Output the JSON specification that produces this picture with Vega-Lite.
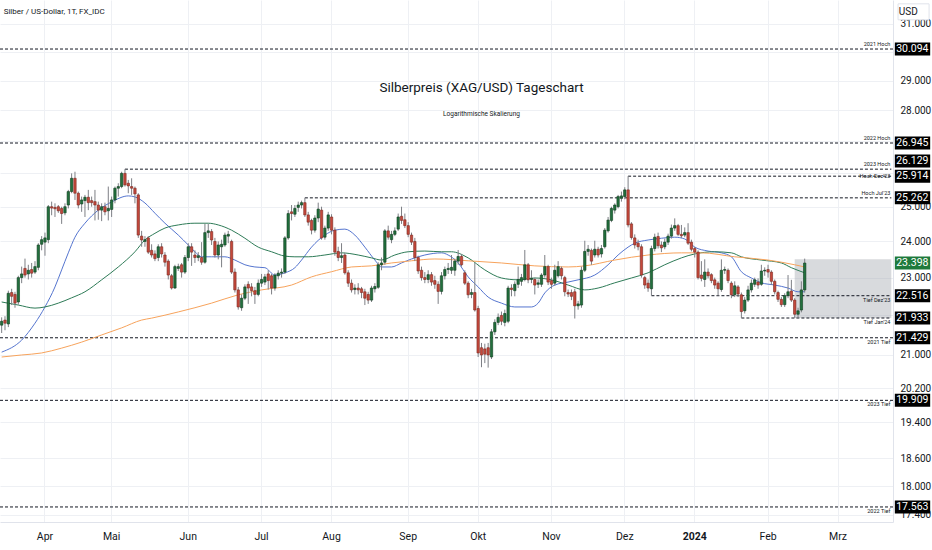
{
  "$schema": "https://vega.github.io/schema/vega-lite/v6.json",
  "width": 893,
  "height": 522,
  "autosize": {"type": "none"},
  "padding": {"left": 0, "top": 0, "right": 39, "bottom": 28},
  "background": "#ffffff",
  "config": {
    "view": {"stroke": null},
    "font": "Roboto, Liberation Sans, sans-serif",
    "axisX": {"grid": true, "gridColor": "#eef0f4", "domainColor": "#e0e3eb", "ticks": false, "labelColor": "#131722", "labelFontSize": 10.5, "labelPadding": 9, "labelAngle": 0},
    "axisY": {"grid": true, "gridColor": "#eef0f4", "domainColor": "#e0e3eb", "ticks": false, "labelColor": "#131722", "labelFontSize": 10, "labelPadding": 7}
  },
  "datasets": {
    "candles": [
      {"date": "2023-03-15", "open": 21.75, "high": 21.95, "low": 21.55, "close": 21.85},
      {"date": "2023-03-16", "open": 21.88, "high": 21.98, "low": 21.62, "close": 21.80},
      {"date": "2023-03-17", "open": 21.78, "high": 22.65, "low": 21.70, "close": 22.58},
      {"date": "2023-03-20", "open": 22.60, "high": 22.70, "low": 22.27, "close": 22.50},
      {"date": "2023-03-21", "open": 22.55, "high": 22.62, "low": 22.20, "close": 22.32},
      {"date": "2023-03-22", "open": 22.35, "high": 23.05, "low": 22.28, "close": 23.00},
      {"date": "2023-03-23", "open": 23.00, "high": 23.30, "low": 22.85, "close": 23.10},
      {"date": "2023-03-24", "open": 23.25, "high": 23.52, "low": 23.00, "close": 23.07},
      {"date": "2023-03-27", "open": 23.10, "high": 23.35, "low": 22.95, "close": 23.20},
      {"date": "2023-03-28", "open": 23.22, "high": 23.40, "low": 23.00, "close": 23.12},
      {"date": "2023-03-29", "open": 23.15, "high": 23.45, "low": 23.10, "close": 23.30},
      {"date": "2023-03-30", "open": 23.28, "high": 23.95, "low": 23.20, "close": 23.90},
      {"date": "2023-03-31", "open": 23.92, "high": 24.15, "low": 23.75, "close": 24.05},
      {"date": "2023-04-03", "open": 23.98, "high": 24.25, "low": 23.60, "close": 24.10},
      {"date": "2023-04-04", "open": 24.05, "high": 25.05, "low": 23.95, "close": 25.00},
      {"date": "2023-04-05", "open": 25.00, "high": 25.15, "low": 24.75, "close": 24.96},
      {"date": "2023-04-06", "open": 24.98, "high": 25.10, "low": 24.70, "close": 24.94},
      {"date": "2023-04-07", "open": 25.00, "high": 25.05, "low": 24.82, "close": 24.88},
      {"date": "2023-04-10", "open": 24.95, "high": 25.00, "low": 24.50, "close": 24.80},
      {"date": "2023-04-11", "open": 24.82, "high": 25.10, "low": 24.75, "close": 25.00},
      {"date": "2023-04-12", "open": 25.05, "high": 25.50, "low": 24.95, "close": 25.45},
      {"date": "2023-04-13", "open": 25.45, "high": 26.00, "low": 25.40, "close": 25.85},
      {"date": "2023-04-14", "open": 25.85, "high": 26.05, "low": 25.20, "close": 25.40},
      {"date": "2023-04-17", "open": 25.40, "high": 25.45, "low": 24.95, "close": 25.05},
      {"date": "2023-04-18", "open": 25.08, "high": 25.30, "low": 24.85, "close": 25.20},
      {"date": "2023-04-19", "open": 25.18, "high": 25.35, "low": 24.70, "close": 25.28},
      {"date": "2023-04-20", "open": 25.28, "high": 25.50, "low": 24.90, "close": 25.12},
      {"date": "2023-04-21", "open": 25.18, "high": 25.30, "low": 25.00, "close": 25.12},
      {"date": "2023-04-24", "open": 25.15, "high": 25.50, "low": 24.60, "close": 25.05},
      {"date": "2023-04-25", "open": 25.05, "high": 25.15, "low": 24.62, "close": 24.90},
      {"date": "2023-04-26", "open": 24.90, "high": 25.10, "low": 24.58, "close": 25.00},
      {"date": "2023-04-27", "open": 25.00, "high": 25.12, "low": 24.75, "close": 24.85},
      {"date": "2023-04-28", "open": 24.88, "high": 25.60, "low": 24.60, "close": 24.95},
      {"date": "2023-05-01", "open": 24.92, "high": 25.30, "low": 24.70, "close": 25.20},
      {"date": "2023-05-02", "open": 25.20, "high": 25.60, "low": 25.10, "close": 25.55},
      {"date": "2023-05-03", "open": 25.55, "high": 25.70, "low": 25.30, "close": 25.60},
      {"date": "2023-05-04", "open": 25.60, "high": 26.05, "low": 25.55, "close": 26.00},
      {"date": "2023-05-05", "open": 26.00, "high": 26.129, "low": 25.60, "close": 25.65},
      {"date": "2023-05-08", "open": 25.70, "high": 25.80, "low": 25.40, "close": 25.62},
      {"date": "2023-05-09", "open": 25.60, "high": 25.85, "low": 25.35, "close": 25.55},
      {"date": "2023-05-10", "open": 25.55, "high": 25.60, "low": 25.10, "close": 25.38},
      {"date": "2023-05-11", "open": 25.35, "high": 25.40, "low": 24.10, "close": 24.18},
      {"date": "2023-05-12", "open": 24.15, "high": 24.30, "low": 23.85, "close": 24.04},
      {"date": "2023-05-15", "open": 24.00, "high": 24.15, "low": 23.85, "close": 24.05},
      {"date": "2023-05-16", "open": 24.10, "high": 24.15, "low": 23.65, "close": 23.70},
      {"date": "2023-05-17", "open": 23.75, "high": 23.92, "low": 23.55, "close": 23.62},
      {"date": "2023-05-18", "open": 23.65, "high": 23.75, "low": 23.45, "close": 23.52},
      {"date": "2023-05-19", "open": 23.55, "high": 23.92, "low": 23.45, "close": 23.85},
      {"date": "2023-05-22", "open": 23.85, "high": 23.95, "low": 23.55, "close": 23.65},
      {"date": "2023-05-23", "open": 23.62, "high": 23.70, "low": 23.30, "close": 23.42},
      {"date": "2023-05-24", "open": 23.45, "high": 23.50, "low": 22.95, "close": 23.07},
      {"date": "2023-05-25", "open": 23.05, "high": 23.10, "low": 22.68, "close": 22.72},
      {"date": "2023-05-26", "open": 22.72, "high": 23.35, "low": 22.70, "close": 23.30},
      {"date": "2023-05-29", "open": 23.25, "high": 23.38, "low": 23.18, "close": 23.30},
      {"date": "2023-05-30", "open": 23.35, "high": 23.40, "low": 23.00, "close": 23.15},
      {"date": "2023-05-31", "open": 23.15, "high": 23.62, "low": 23.10, "close": 23.55},
      {"date": "2023-06-01", "open": 23.55, "high": 23.95, "low": 23.45, "close": 23.85},
      {"date": "2023-06-02", "open": 23.85, "high": 23.95, "low": 23.32, "close": 23.70},
      {"date": "2023-06-05", "open": 23.62, "high": 23.75, "low": 23.40, "close": 23.55},
      {"date": "2023-06-06", "open": 23.55, "high": 23.70, "low": 23.45, "close": 23.60},
      {"date": "2023-06-07", "open": 23.55, "high": 23.98, "low": 23.35, "close": 23.42},
      {"date": "2023-06-08", "open": 23.42, "high": 24.50, "low": 23.38, "close": 24.25},
      {"date": "2023-06-09", "open": 24.25, "high": 24.50, "low": 24.10, "close": 24.30},
      {"date": "2023-06-12", "open": 24.28, "high": 24.35, "low": 23.90, "close": 24.04},
      {"date": "2023-06-13", "open": 24.00, "high": 24.10, "low": 23.55, "close": 23.62},
      {"date": "2023-06-14", "open": 23.62, "high": 24.00, "low": 23.50, "close": 23.90},
      {"date": "2023-06-15", "open": 23.85, "high": 24.05, "low": 23.28, "close": 23.92},
      {"date": "2023-06-16", "open": 23.90, "high": 24.25, "low": 23.85, "close": 24.18},
      {"date": "2023-06-19", "open": 24.15, "high": 24.30, "low": 23.95, "close": 24.20},
      {"date": "2023-06-20", "open": 24.00, "high": 24.05, "low": 23.10, "close": 23.15},
      {"date": "2023-06-21", "open": 23.15, "high": 23.25, "low": 22.60, "close": 22.67},
      {"date": "2023-06-22", "open": 22.67, "high": 22.75, "low": 22.15, "close": 22.22},
      {"date": "2023-06-23", "open": 22.20, "high": 22.55, "low": 22.12, "close": 22.45},
      {"date": "2023-06-26", "open": 22.45, "high": 22.82, "low": 22.40, "close": 22.75},
      {"date": "2023-06-27", "open": 22.82, "high": 22.90, "low": 22.30, "close": 22.72},
      {"date": "2023-06-28", "open": 22.75, "high": 22.85, "low": 22.50, "close": 22.65},
      {"date": "2023-06-29", "open": 22.65, "high": 22.75, "low": 22.30, "close": 22.55},
      {"date": "2023-06-30", "open": 22.55, "high": 22.95, "low": 22.50, "close": 22.85},
      {"date": "2023-07-03", "open": 22.85, "high": 23.10, "low": 22.75, "close": 22.95},
      {"date": "2023-07-04", "open": 22.88, "high": 23.10, "low": 22.80, "close": 23.02},
      {"date": "2023-07-05", "open": 23.10, "high": 23.20, "low": 22.68, "close": 22.92},
      {"date": "2023-07-06", "open": 23.05, "high": 23.10, "low": 22.55, "close": 22.72},
      {"date": "2023-07-07", "open": 22.72, "high": 23.12, "low": 22.65, "close": 23.07},
      {"date": "2023-07-10", "open": 23.05, "high": 23.20, "low": 22.95, "close": 23.12},
      {"date": "2023-07-11", "open": 23.12, "high": 23.25, "low": 23.00, "close": 23.15},
      {"date": "2023-07-12", "open": 23.15, "high": 24.15, "low": 23.10, "close": 24.10},
      {"date": "2023-07-13", "open": 24.10, "high": 24.90, "low": 24.05, "close": 24.80},
      {"date": "2023-07-14", "open": 24.85, "high": 25.05, "low": 24.60, "close": 24.80},
      {"date": "2023-07-17", "open": 24.78, "high": 25.05, "low": 24.70, "close": 24.95},
      {"date": "2023-07-18", "open": 24.98, "high": 25.15, "low": 24.85, "close": 25.05},
      {"date": "2023-07-19", "open": 25.05, "high": 25.18, "low": 24.95, "close": 25.12},
      {"date": "2023-07-20", "open": 25.12, "high": 25.262, "low": 24.70, "close": 24.76},
      {"date": "2023-07-21", "open": 24.76, "high": 24.85, "low": 24.45, "close": 24.55},
      {"date": "2023-07-24", "open": 24.60, "high": 24.65, "low": 24.20, "close": 24.32},
      {"date": "2023-07-25", "open": 24.32, "high": 24.75, "low": 24.25, "close": 24.67},
      {"date": "2023-07-26", "open": 24.67, "high": 25.12, "low": 24.55, "close": 24.93},
      {"date": "2023-07-27", "open": 24.90, "high": 25.00, "low": 24.05, "close": 24.10},
      {"date": "2023-07-28", "open": 24.12, "high": 24.45, "low": 24.05, "close": 24.38},
      {"date": "2023-07-31", "open": 24.38, "high": 24.85, "low": 24.30, "close": 24.76},
      {"date": "2023-08-01", "open": 24.70, "high": 24.78, "low": 24.20, "close": 24.32},
      {"date": "2023-08-02", "open": 24.32, "high": 24.40, "low": 23.60, "close": 23.70},
      {"date": "2023-08-03", "open": 23.72, "high": 23.85, "low": 23.45, "close": 23.55},
      {"date": "2023-08-04", "open": 23.55, "high": 23.95, "low": 23.40, "close": 23.60},
      {"date": "2023-08-07", "open": 23.62, "high": 23.68, "low": 23.08, "close": 23.13},
      {"date": "2023-08-08", "open": 23.13, "high": 23.20, "low": 22.75, "close": 22.85},
      {"date": "2023-08-09", "open": 22.85, "high": 22.95, "low": 22.60, "close": 22.67},
      {"date": "2023-08-10", "open": 22.68, "high": 22.82, "low": 22.55, "close": 22.72},
      {"date": "2023-08-11", "open": 22.72, "high": 22.85, "low": 22.55, "close": 22.67},
      {"date": "2023-08-14", "open": 22.70, "high": 22.75, "low": 22.45, "close": 22.60},
      {"date": "2023-08-15", "open": 22.62, "high": 22.70, "low": 22.27, "close": 22.45},
      {"date": "2023-08-16", "open": 22.55, "high": 22.62, "low": 22.30, "close": 22.40},
      {"date": "2023-08-17", "open": 22.40, "high": 22.78, "low": 22.35, "close": 22.72},
      {"date": "2023-08-18", "open": 22.70, "high": 22.85, "low": 22.60, "close": 22.76},
      {"date": "2023-08-21", "open": 22.74, "high": 23.42, "low": 22.70, "close": 23.35},
      {"date": "2023-08-22", "open": 23.35, "high": 23.55, "low": 23.20, "close": 23.40},
      {"date": "2023-08-23", "open": 23.42, "high": 24.35, "low": 23.35, "close": 24.30},
      {"date": "2023-08-24", "open": 24.30, "high": 24.45, "low": 24.05, "close": 24.12},
      {"date": "2023-08-25", "open": 24.05, "high": 24.30, "low": 23.95, "close": 24.20},
      {"date": "2023-08-28", "open": 24.20, "high": 24.40, "low": 24.15, "close": 24.30},
      {"date": "2023-08-29", "open": 24.35, "high": 24.80, "low": 24.30, "close": 24.70},
      {"date": "2023-08-30", "open": 24.72, "high": 25.00, "low": 24.50, "close": 24.60},
      {"date": "2023-08-31", "open": 24.62, "high": 24.80, "low": 24.38, "close": 24.45},
      {"date": "2023-09-01", "open": 24.45, "high": 24.55, "low": 24.12, "close": 24.20},
      {"date": "2023-09-04", "open": 24.18, "high": 24.25, "low": 23.90, "close": 23.98},
      {"date": "2023-09-05", "open": 24.00, "high": 24.10, "low": 23.45, "close": 23.55},
      {"date": "2023-09-06", "open": 23.55, "high": 23.60, "low": 23.10, "close": 23.18},
      {"date": "2023-09-07", "open": 23.20, "high": 23.30, "low": 22.92, "close": 23.00},
      {"date": "2023-09-08", "open": 23.00, "high": 23.15, "low": 22.85, "close": 22.95},
      {"date": "2023-09-11", "open": 22.95, "high": 23.20, "low": 22.85, "close": 23.08},
      {"date": "2023-09-12", "open": 23.08, "high": 23.15, "low": 22.78, "close": 22.88},
      {"date": "2023-09-13", "open": 22.92, "high": 23.05, "low": 22.70, "close": 22.82},
      {"date": "2023-09-14", "open": 22.82, "high": 22.90, "low": 22.30, "close": 22.63},
      {"date": "2023-09-15", "open": 22.63, "high": 23.15, "low": 22.55, "close": 23.05},
      {"date": "2023-09-18", "open": 23.05, "high": 23.30, "low": 22.95, "close": 23.22},
      {"date": "2023-09-19", "open": 23.22, "high": 23.40, "low": 23.10, "close": 23.25},
      {"date": "2023-09-20", "open": 23.20, "high": 23.62, "low": 23.10, "close": 23.28},
      {"date": "2023-09-21", "open": 23.20, "high": 23.52, "low": 23.05, "close": 23.45},
      {"date": "2023-09-22", "open": 23.45, "high": 23.76, "low": 23.35, "close": 23.58},
      {"date": "2023-09-25", "open": 23.58, "high": 23.65, "low": 23.30, "close": 23.35},
      {"date": "2023-09-26", "open": 23.13, "high": 23.20, "low": 22.80, "close": 22.85},
      {"date": "2023-09-27", "open": 22.85, "high": 22.90, "low": 22.45, "close": 22.54},
      {"date": "2023-09-28", "open": 22.55, "high": 22.70, "low": 22.45, "close": 22.60},
      {"date": "2023-09-29", "open": 22.60, "high": 23.40, "low": 22.10, "close": 22.14},
      {"date": "2023-10-02", "open": 22.18, "high": 22.25, "low": 20.95, "close": 21.05},
      {"date": "2023-10-03", "open": 21.18, "high": 21.30, "low": 20.70, "close": 21.00},
      {"date": "2023-10-04", "open": 21.15, "high": 21.28, "low": 20.80, "close": 21.02},
      {"date": "2023-10-05", "open": 21.18, "high": 21.30, "low": 20.69, "close": 21.00},
      {"date": "2023-10-06", "open": 20.95, "high": 21.65, "low": 20.90, "close": 21.58},
      {"date": "2023-10-09", "open": 21.58, "high": 21.90, "low": 21.50, "close": 21.82},
      {"date": "2023-10-10", "open": 21.82, "high": 22.05, "low": 21.75, "close": 21.95},
      {"date": "2023-10-11", "open": 22.00, "high": 22.10, "low": 21.75, "close": 21.85},
      {"date": "2023-10-12", "open": 21.82, "high": 22.15, "low": 21.72, "close": 22.05},
      {"date": "2023-10-13", "open": 21.85, "high": 22.78, "low": 21.80, "close": 22.72},
      {"date": "2023-10-16", "open": 22.72, "high": 22.82, "low": 22.50, "close": 22.68},
      {"date": "2023-10-17", "open": 22.65, "high": 22.90, "low": 22.50, "close": 22.82},
      {"date": "2023-10-18", "open": 22.82, "high": 23.30, "low": 22.72, "close": 22.95},
      {"date": "2023-10-19", "open": 22.90, "high": 23.10, "low": 22.78, "close": 23.00},
      {"date": "2023-10-20", "open": 22.95, "high": 23.76, "low": 22.90, "close": 23.35},
      {"date": "2023-10-23", "open": 23.35, "high": 23.40, "low": 22.85, "close": 22.94},
      {"date": "2023-10-24", "open": 22.95, "high": 23.20, "low": 22.85, "close": 22.98},
      {"date": "2023-10-25", "open": 22.95, "high": 23.00, "low": 22.55, "close": 22.80},
      {"date": "2023-10-26", "open": 22.82, "high": 22.95, "low": 22.72, "close": 22.86},
      {"date": "2023-10-27", "open": 22.82, "high": 23.12, "low": 22.75, "close": 23.07},
      {"date": "2023-10-30", "open": 23.07, "high": 23.62, "low": 23.00, "close": 23.30},
      {"date": "2023-10-31", "open": 23.30, "high": 23.35, "low": 22.80, "close": 22.88},
      {"date": "2023-11-01", "open": 22.92, "high": 23.00, "low": 22.70, "close": 22.82},
      {"date": "2023-11-02", "open": 22.85, "high": 23.35, "low": 22.78, "close": 23.20},
      {"date": "2023-11-03", "open": 23.05, "high": 23.45, "low": 23.00, "close": 23.30},
      {"date": "2023-11-06", "open": 23.25, "high": 23.30, "low": 22.95, "close": 23.05},
      {"date": "2023-11-07", "open": 23.00, "high": 23.05, "low": 22.50, "close": 22.62},
      {"date": "2023-11-08", "open": 22.60, "high": 22.68, "low": 22.48, "close": 22.56},
      {"date": "2023-11-09", "open": 22.60, "high": 22.68, "low": 22.40, "close": 22.50},
      {"date": "2023-11-10", "open": 22.62, "high": 22.70, "low": 21.92, "close": 22.25},
      {"date": "2023-11-13", "open": 22.25, "high": 22.38, "low": 22.15, "close": 22.30},
      {"date": "2023-11-14", "open": 22.27, "high": 23.30, "low": 22.20, "close": 23.20},
      {"date": "2023-11-15", "open": 23.20, "high": 24.02, "low": 23.15, "close": 23.72},
      {"date": "2023-11-16", "open": 23.72, "high": 23.90, "low": 23.60, "close": 23.78},
      {"date": "2023-11-17", "open": 23.75, "high": 23.80, "low": 23.35, "close": 23.45},
      {"date": "2023-11-20", "open": 23.62, "high": 24.02, "low": 23.55, "close": 23.78},
      {"date": "2023-11-21", "open": 23.78, "high": 23.85, "low": 23.55, "close": 23.62},
      {"date": "2023-11-22", "open": 23.65, "high": 23.90, "low": 23.55, "close": 23.80},
      {"date": "2023-11-23", "open": 23.85, "high": 24.38, "low": 23.80, "close": 24.32},
      {"date": "2023-11-24", "open": 24.30, "high": 24.70, "low": 24.25, "close": 24.61},
      {"date": "2023-11-27", "open": 24.60, "high": 25.00, "low": 24.55, "close": 24.95},
      {"date": "2023-11-28", "open": 24.90, "high": 25.10, "low": 24.80, "close": 25.05},
      {"date": "2023-11-29", "open": 25.00, "high": 25.35, "low": 24.95, "close": 25.30},
      {"date": "2023-11-30", "open": 25.25, "high": 25.45, "low": 25.15, "close": 25.32},
      {"date": "2023-12-01", "open": 25.30, "high": 25.58, "low": 25.22, "close": 25.50},
      {"date": "2023-12-04", "open": 25.50, "high": 25.914, "low": 24.40, "close": 24.47},
      {"date": "2023-12-05", "open": 24.50, "high": 24.55, "low": 24.05, "close": 24.11},
      {"date": "2023-12-06", "open": 24.10, "high": 24.20, "low": 23.80, "close": 23.90},
      {"date": "2023-12-07", "open": 23.95, "high": 24.05, "low": 23.75, "close": 23.85},
      {"date": "2023-12-08", "open": 23.85, "high": 23.92, "low": 23.00, "close": 23.07},
      {"date": "2023-12-11", "open": 23.00, "high": 23.05, "low": 22.70, "close": 22.80},
      {"date": "2023-12-12", "open": 22.85, "high": 22.95, "low": 22.62, "close": 22.72},
      {"date": "2023-12-13", "open": 22.70, "high": 23.88, "low": 22.516, "close": 23.80},
      {"date": "2023-12-14", "open": 23.80, "high": 24.22, "low": 23.72, "close": 24.12},
      {"date": "2023-12-15", "open": 24.14, "high": 24.25, "low": 23.80, "close": 23.88},
      {"date": "2023-12-18", "open": 23.90, "high": 24.00, "low": 23.70, "close": 23.82},
      {"date": "2023-12-19", "open": 23.85, "high": 24.08, "low": 23.78, "close": 23.98},
      {"date": "2023-12-20", "open": 23.98, "high": 24.22, "low": 23.90, "close": 24.15},
      {"date": "2023-12-21", "open": 24.15, "high": 24.48, "low": 24.08, "close": 24.38},
      {"date": "2023-12-22", "open": 24.38, "high": 24.66, "low": 24.30, "close": 24.45},
      {"date": "2023-12-25", "open": 24.45, "high": 24.50, "low": 24.15, "close": 24.20},
      {"date": "2023-12-26", "open": 24.20, "high": 24.47, "low": 24.10, "close": 24.16},
      {"date": "2023-12-27", "open": 24.18, "high": 24.40, "low": 24.12, "close": 24.25},
      {"date": "2023-12-28", "open": 24.25, "high": 24.52, "low": 23.90, "close": 23.95},
      {"date": "2023-12-29", "open": 23.98, "high": 24.05, "low": 23.72, "close": 23.78},
      {"date": "2024-01-02", "open": 23.80, "high": 23.85, "low": 23.55, "close": 23.70},
      {"date": "2024-01-03", "open": 23.70, "high": 23.75, "low": 22.95, "close": 23.00},
      {"date": "2024-01-04", "open": 23.07, "high": 23.45, "low": 22.90, "close": 22.98},
      {"date": "2024-01-05", "open": 22.95, "high": 23.50, "low": 22.75, "close": 23.15},
      {"date": "2024-01-08", "open": 23.15, "high": 23.25, "low": 22.98, "close": 23.05},
      {"date": "2024-01-09", "open": 23.08, "high": 23.12, "low": 22.85, "close": 22.92},
      {"date": "2024-01-10", "open": 22.94, "high": 23.00, "low": 22.70, "close": 22.80},
      {"date": "2024-01-11", "open": 22.85, "high": 22.90, "low": 22.52, "close": 22.70},
      {"date": "2024-01-12", "open": 22.68, "high": 23.50, "low": 22.62, "close": 23.20},
      {"date": "2024-01-15", "open": 23.20, "high": 23.30, "low": 23.10, "close": 23.22},
      {"date": "2024-01-16", "open": 23.20, "high": 23.25, "low": 22.85, "close": 22.92},
      {"date": "2024-01-17", "open": 22.85, "high": 22.90, "low": 22.45, "close": 22.54},
      {"date": "2024-01-18", "open": 22.54, "high": 22.90, "low": 22.48, "close": 22.78},
      {"date": "2024-01-19", "open": 22.75, "high": 22.80, "low": 22.48, "close": 22.56},
      {"date": "2024-01-22", "open": 22.54, "high": 22.60, "low": 21.933, "close": 22.10},
      {"date": "2024-01-23", "open": 22.12, "high": 22.48, "low": 22.05, "close": 22.40},
      {"date": "2024-01-24", "open": 22.40, "high": 22.78, "low": 22.35, "close": 22.67},
      {"date": "2024-01-25", "open": 22.67, "high": 22.95, "low": 22.60, "close": 22.85},
      {"date": "2024-01-26", "open": 22.82, "high": 23.00, "low": 22.75, "close": 22.94},
      {"date": "2024-01-29", "open": 22.88, "high": 22.98, "low": 22.70, "close": 22.80},
      {"date": "2024-01-30", "open": 22.82, "high": 23.35, "low": 22.78, "close": 23.18},
      {"date": "2024-01-31", "open": 23.18, "high": 23.28, "low": 23.05, "close": 23.20},
      {"date": "2024-02-01", "open": 23.22, "high": 23.35, "low": 23.00, "close": 23.15},
      {"date": "2024-02-02", "open": 23.15, "high": 23.20, "low": 22.80, "close": 22.90},
      {"date": "2024-02-05", "open": 22.90, "high": 22.95, "low": 22.55, "close": 22.62},
      {"date": "2024-02-06", "open": 22.60, "high": 22.65, "low": 22.35, "close": 22.42},
      {"date": "2024-02-07", "open": 22.42, "high": 22.48, "low": 22.22, "close": 22.28},
      {"date": "2024-02-08", "open": 22.28, "high": 22.58, "low": 22.22, "close": 22.52},
      {"date": "2024-02-09", "open": 22.52, "high": 23.07, "low": 22.45, "close": 22.62},
      {"date": "2024-02-12", "open": 22.64, "high": 22.94, "low": 22.35, "close": 22.40},
      {"date": "2024-02-13", "open": 22.40, "high": 22.45, "low": 21.933, "close": 22.03},
      {"date": "2024-02-14", "open": 22.03, "high": 22.20, "low": 21.94, "close": 22.12},
      {"date": "2024-02-15", "open": 22.14, "high": 22.90, "low": 22.08, "close": 22.67},
      {"date": "2024-02-16", "open": 22.67, "high": 23.52, "low": 22.60, "close": 23.398}
    ],
    "future": [
      {"date": "2024-02-19"}, {"date": "2024-02-20"}, {"date": "2024-02-21"}, {"date": "2024-02-22"}, {"date": "2024-02-23"},
      {"date": "2024-02-26"}, {"date": "2024-02-27"}, {"date": "2024-02-28"}, {"date": "2024-02-29"}, {"date": "2024-03-01"},
      {"date": "2024-03-04"}, {"date": "2024-03-05"}, {"date": "2024-03-06"}, {"date": "2024-03-07"}, {"date": "2024-03-08"},
      {"date": "2024-03-11"}, {"date": "2024-03-12"}, {"date": "2024-03-13"}, {"date": "2024-03-14"}, {"date": "2024-03-15"},
      {"date": "2024-03-18"}, {"date": "2024-03-19"}, {"date": "2024-03-20"}, {"date": "2024-03-21"}, {"date": "2024-03-22"},
      {"date": "2024-03-25"}
    ],
    "ma": [
      {"ma": "MA20", "date": "2023-03-15", "value": 21.07},
      {"ma": "MA20", "date": "2023-03-23", "value": 21.37},
      {"ma": "MA20", "date": "2023-03-29", "value": 21.80},
      {"ma": "MA20", "date": "2023-04-03", "value": 22.22},
      {"ma": "MA20", "date": "2023-04-06", "value": 22.75},
      {"ma": "MA20", "date": "2023-04-10", "value": 23.21},
      {"ma": "MA20", "date": "2023-04-12", "value": 23.68},
      {"ma": "MA20", "date": "2023-04-14", "value": 24.12},
      {"ma": "MA20", "date": "2023-04-19", "value": 24.52},
      {"ma": "MA20", "date": "2023-04-25", "value": 24.90},
      {"ma": "MA20", "date": "2023-05-01", "value": 25.14},
      {"ma": "MA20", "date": "2023-05-08", "value": 25.32},
      {"ma": "MA20", "date": "2023-05-10", "value": 25.29},
      {"ma": "MA20", "date": "2023-05-15", "value": 25.11},
      {"ma": "MA20", "date": "2023-05-18", "value": 24.81},
      {"ma": "MA20", "date": "2023-05-23", "value": 24.52},
      {"ma": "MA20", "date": "2023-05-29", "value": 24.18},
      {"ma": "MA20", "date": "2023-06-01", "value": 23.90},
      {"ma": "MA20", "date": "2023-06-05", "value": 23.71},
      {"ma": "MA20", "date": "2023-06-07", "value": 23.57},
      {"ma": "MA20", "date": "2023-06-12", "value": 23.57},
      {"ma": "MA20", "date": "2023-06-16", "value": 23.57},
      {"ma": "MA20", "date": "2023-06-21", "value": 23.48},
      {"ma": "MA20", "date": "2023-06-26", "value": 23.35},
      {"ma": "MA20", "date": "2023-06-29", "value": 23.29},
      {"ma": "MA20", "date": "2023-07-04", "value": 23.27},
      {"ma": "MA20", "date": "2023-07-07", "value": 23.07},
      {"ma": "MA20", "date": "2023-07-12", "value": 23.13},
      {"ma": "MA20", "date": "2023-07-17", "value": 23.27},
      {"ma": "MA20", "date": "2023-07-19", "value": 23.48},
      {"ma": "MA20", "date": "2023-07-24", "value": 23.84},
      {"ma": "MA20", "date": "2023-07-28", "value": 24.18},
      {"ma": "MA20", "date": "2023-08-02", "value": 24.32},
      {"ma": "MA20", "date": "2023-08-07", "value": 24.35},
      {"ma": "MA20", "date": "2023-08-10", "value": 24.18},
      {"ma": "MA20", "date": "2023-08-15", "value": 23.84},
      {"ma": "MA20", "date": "2023-08-18", "value": 23.48},
      {"ma": "MA20", "date": "2023-08-22", "value": 23.29},
      {"ma": "MA20", "date": "2023-08-25", "value": 23.29},
      {"ma": "MA20", "date": "2023-08-30", "value": 23.40},
      {"ma": "MA20", "date": "2023-09-04", "value": 23.51},
      {"ma": "MA20", "date": "2023-09-08", "value": 23.62},
      {"ma": "MA20", "date": "2023-09-15", "value": 23.68},
      {"ma": "MA20", "date": "2023-09-19", "value": 23.62},
      {"ma": "MA20", "date": "2023-09-22", "value": 23.40},
      {"ma": "MA20", "date": "2023-09-27", "value": 23.02},
      {"ma": "MA20", "date": "2023-10-02", "value": 22.75},
      {"ma": "MA20", "date": "2023-10-05", "value": 22.48},
      {"ma": "MA20", "date": "2023-10-11", "value": 22.32},
      {"ma": "MA20", "date": "2023-10-17", "value": 22.22},
      {"ma": "MA20", "date": "2023-10-24", "value": 22.22},
      {"ma": "MA20", "date": "2023-10-26", "value": 22.32},
      {"ma": "MA20", "date": "2023-10-30", "value": 22.59},
      {"ma": "MA20", "date": "2023-11-02", "value": 22.80},
      {"ma": "MA20", "date": "2023-11-08", "value": 22.88},
      {"ma": "MA20", "date": "2023-11-13", "value": 22.94},
      {"ma": "MA20", "date": "2023-11-20", "value": 23.07},
      {"ma": "MA20", "date": "2023-11-24", "value": 23.35},
      {"ma": "MA20", "date": "2023-11-29", "value": 23.62},
      {"ma": "MA20", "date": "2023-12-04", "value": 23.84},
      {"ma": "MA20", "date": "2023-12-06", "value": 23.95},
      {"ma": "MA20", "date": "2023-12-12", "value": 24.04},
      {"ma": "MA20", "date": "2023-12-18", "value": 24.09},
      {"ma": "MA20", "date": "2023-12-22", "value": 24.12},
      {"ma": "MA20", "date": "2023-12-27", "value": 24.07},
      {"ma": "MA20", "date": "2024-01-02", "value": 23.84},
      {"ma": "MA20", "date": "2024-01-08", "value": 23.73},
      {"ma": "MA20", "date": "2024-01-12", "value": 23.68},
      {"ma": "MA20", "date": "2024-01-17", "value": 23.57},
      {"ma": "MA20", "date": "2024-01-22", "value": 23.16},
      {"ma": "MA20", "date": "2024-01-25", "value": 22.99},
      {"ma": "MA20", "date": "2024-01-30", "value": 22.86},
      {"ma": "MA20", "date": "2024-02-05", "value": 22.80},
      {"ma": "MA20", "date": "2024-02-09", "value": 22.72},
      {"ma": "MA20", "date": "2024-02-14", "value": 22.62},
      {"ma": "MA20", "date": "2024-02-16", "value": 22.62},
      {"ma": "MA50", "date": "2023-03-15", "value": 22.35},
      {"ma": "MA50", "date": "2023-03-22", "value": 22.27},
      {"ma": "MA50", "date": "2023-03-29", "value": 22.19},
      {"ma": "MA50", "date": "2023-04-03", "value": 22.22},
      {"ma": "MA50", "date": "2023-04-07", "value": 22.32},
      {"ma": "MA50", "date": "2023-04-13", "value": 22.46},
      {"ma": "MA50", "date": "2023-04-19", "value": 22.62},
      {"ma": "MA50", "date": "2023-04-26", "value": 22.94},
      {"ma": "MA50", "date": "2023-05-03", "value": 23.29},
      {"ma": "MA50", "date": "2023-05-10", "value": 23.71},
      {"ma": "MA50", "date": "2023-05-15", "value": 24.04},
      {"ma": "MA50", "date": "2023-05-18", "value": 24.23},
      {"ma": "MA50", "date": "2023-05-23", "value": 24.38},
      {"ma": "MA50", "date": "2023-05-29", "value": 24.47},
      {"ma": "MA50", "date": "2023-06-05", "value": 24.52},
      {"ma": "MA50", "date": "2023-06-09", "value": 24.52},
      {"ma": "MA50", "date": "2023-06-14", "value": 24.47},
      {"ma": "MA50", "date": "2023-06-20", "value": 24.32},
      {"ma": "MA50", "date": "2023-06-26", "value": 24.09},
      {"ma": "MA50", "date": "2023-06-30", "value": 23.84},
      {"ma": "MA50", "date": "2023-07-06", "value": 23.71},
      {"ma": "MA50", "date": "2023-07-12", "value": 23.59},
      {"ma": "MA50", "date": "2023-07-17", "value": 23.57},
      {"ma": "MA50", "date": "2023-07-21", "value": 23.57},
      {"ma": "MA50", "date": "2023-07-28", "value": 23.62},
      {"ma": "MA50", "date": "2023-08-04", "value": 23.68},
      {"ma": "MA50", "date": "2023-08-11", "value": 23.62},
      {"ma": "MA50", "date": "2023-08-17", "value": 23.54},
      {"ma": "MA50", "date": "2023-08-22", "value": 23.48},
      {"ma": "MA50", "date": "2023-08-28", "value": 23.62},
      {"ma": "MA50", "date": "2023-09-01", "value": 23.71},
      {"ma": "MA50", "date": "2023-09-08", "value": 23.73},
      {"ma": "MA50", "date": "2023-09-15", "value": 23.71},
      {"ma": "MA50", "date": "2023-09-20", "value": 23.71},
      {"ma": "MA50", "date": "2023-09-27", "value": 23.54},
      {"ma": "MA50", "date": "2023-10-04", "value": 23.21},
      {"ma": "MA50", "date": "2023-10-11", "value": 22.99},
      {"ma": "MA50", "date": "2023-10-18", "value": 22.94},
      {"ma": "MA50", "date": "2023-10-25", "value": 22.99},
      {"ma": "MA50", "date": "2023-11-01", "value": 22.94},
      {"ma": "MA50", "date": "2023-11-08", "value": 22.80},
      {"ma": "MA50", "date": "2023-11-15", "value": 22.67},
      {"ma": "MA50", "date": "2023-11-21", "value": 22.72},
      {"ma": "MA50", "date": "2023-11-28", "value": 22.86},
      {"ma": "MA50", "date": "2023-12-05", "value": 22.99},
      {"ma": "MA50", "date": "2023-12-12", "value": 23.13},
      {"ma": "MA50", "date": "2023-12-19", "value": 23.35},
      {"ma": "MA50", "date": "2023-12-26", "value": 23.54},
      {"ma": "MA50", "date": "2024-01-02", "value": 23.65},
      {"ma": "MA50", "date": "2024-01-10", "value": 23.71},
      {"ma": "MA50", "date": "2024-01-17", "value": 23.68},
      {"ma": "MA50", "date": "2024-01-22", "value": 23.57},
      {"ma": "MA50", "date": "2024-01-30", "value": 23.48},
      {"ma": "MA50", "date": "2024-02-07", "value": 23.40},
      {"ma": "MA50", "date": "2024-02-12", "value": 23.27},
      {"ma": "MA50", "date": "2024-02-16", "value": 23.13},
      {"ma": "MA200", "date": "2023-03-15", "value": 20.95},
      {"ma": "MA200", "date": "2023-03-23", "value": 21.00},
      {"ma": "MA200", "date": "2023-03-31", "value": 21.05},
      {"ma": "MA200", "date": "2023-04-10", "value": 21.17},
      {"ma": "MA200", "date": "2023-04-18", "value": 21.32},
      {"ma": "MA200", "date": "2023-04-26", "value": 21.50},
      {"ma": "MA200", "date": "2023-05-04", "value": 21.68},
      {"ma": "MA200", "date": "2023-05-12", "value": 21.88},
      {"ma": "MA200", "date": "2023-05-17", "value": 21.93},
      {"ma": "MA200", "date": "2023-05-29", "value": 22.09},
      {"ma": "MA200", "date": "2023-06-12", "value": 22.32},
      {"ma": "MA200", "date": "2023-06-22", "value": 22.54},
      {"ma": "MA200", "date": "2023-07-03", "value": 22.67},
      {"ma": "MA200", "date": "2023-07-14", "value": 22.80},
      {"ma": "MA200", "date": "2023-07-24", "value": 23.02},
      {"ma": "MA200", "date": "2023-08-01", "value": 23.16},
      {"ma": "MA200", "date": "2023-08-09", "value": 23.29},
      {"ma": "MA200", "date": "2023-08-17", "value": 23.32},
      {"ma": "MA200", "date": "2023-08-25", "value": 23.40},
      {"ma": "MA200", "date": "2023-09-04", "value": 23.46},
      {"ma": "MA200", "date": "2023-09-13", "value": 23.51},
      {"ma": "MA200", "date": "2023-09-27", "value": 23.46},
      {"ma": "MA200", "date": "2023-10-11", "value": 23.40},
      {"ma": "MA200", "date": "2023-10-25", "value": 23.32},
      {"ma": "MA200", "date": "2023-11-08", "value": 23.29},
      {"ma": "MA200", "date": "2023-11-15", "value": 23.32},
      {"ma": "MA200", "date": "2023-11-28", "value": 23.48},
      {"ma": "MA200", "date": "2023-12-12", "value": 23.62},
      {"ma": "MA200", "date": "2023-12-26", "value": 23.68},
      {"ma": "MA200", "date": "2024-01-04", "value": 23.68},
      {"ma": "MA200", "date": "2024-01-18", "value": 23.57},
      {"ma": "MA200", "date": "2024-02-01", "value": 23.48},
      {"ma": "MA200", "date": "2024-02-13", "value": 23.35},
      {"ma": "MA200", "date": "2024-02-16", "value": 23.29}
    ],
    "levels": [
      {"price": 30.094, "name": "2021 Hoch", "from": null},
      {"price": 26.945, "name": "2022 Hoch", "from": null},
      {"price": 26.129, "name": "2023 Hoch", "from": "2023-05-05"},
      {"price": 25.914, "name": "Hoch Dez'23", "from": "2023-12-04"},
      {"price": 25.262, "name": "Hoch Jul'23", "from": "2023-07-20"},
      {"price": 22.516, "name": "Tief Dez'23", "from": "2023-12-13"},
      {"price": 21.933, "name": "Tief Jan'24", "from": "2024-01-22"},
      {"price": 21.429, "name": "2021 Tief", "from": null},
      {"price": 19.909, "name": "2023 Tief", "from": null},
      {"price": 17.563, "name": "2022 Tief", "from": null}
    ],
    "last": [{"price": 23.398}],
    "zone": [{"from": "2024-02-13", "to": "2024-03-25", "low": 21.933, "high": 23.5}]
  },
  "layer": [
    {
      "data": {"name": "future"},
      "mark": {"type": "point", "opacity": 0, "size": 1},
      "encoding": {"x": {"field": "date", "type": "ordinal", "title": null}}
    },
    {
      "data": {"name": "zone"},
      "mark": {"type": "rect", "color": "#a3a6af", "opacity": 0.42},
      "encoding": {
        "x": {"field": "from", "type": "ordinal", "title": null},
        "x2": {"field": "to"},
        "y": {"field": "low", "type": "quantitative", "title": null},
        "y2": {"field": "high"}
      }
    },
    {
      "data": {"name": "levels"},
      "transform": [{"filter": "datum.from == null"}],
      "mark": {"type": "rule", "color": "#131722", "strokeDash": [3, 2], "strokeWidth": 1},
      "encoding": {"y": {"field": "price", "type": "quantitative", "title": null}}
    },
    {
      "data": {"name": "levels"},
      "transform": [{"filter": "datum.from != null"}],
      "mark": {"type": "rule", "color": "#131722", "strokeDash": [3, 2], "strokeWidth": 1},
      "encoding": {
        "x": {"field": "from", "type": "ordinal", "title": null},
        "x2": {"datum": "2024-03-25"},
        "y": {"field": "price", "type": "quantitative", "title": null}
      }
    },
    {
      "data": {"name": "levels"},
      "transform": [{"filter": "indexof(datum.name, 'Hoch') >= 0 && indexof(datum.name, 'Dez') < 0"}],
      "mark": {"type": "text", "fontSize": 5.5, "color": "#131722", "align": "right", "baseline": "bottom", "dx": -1, "dy": -2},
      "encoding": {
        "x": {"datum": "2024-03-25", "type": "ordinal"},
        "y": {"field": "price", "type": "quantitative", "title": null},
        "text": {"field": "name"}
      }
    },
    {
      "data": {"name": "levels"},
      "transform": [{"filter": "indexof(datum.name, 'Hoch') >= 0 && indexof(datum.name, 'Dez') >= 0"}],
      "mark": {"type": "text", "fontSize": 5.5, "color": "#131722", "align": "right", "baseline": "middle", "dx": -1},
      "encoding": {
        "x": {"datum": "2024-03-25", "type": "ordinal"},
        "y": {"field": "price", "type": "quantitative", "title": null},
        "text": {"field": "name"}
      }
    },
    {
      "data": {"name": "levels"},
      "transform": [{"filter": "indexof(datum.name, 'Tief') >= 0"}],
      "mark": {"type": "text", "fontSize": 5.5, "color": "#131722", "align": "right", "baseline": "top", "dx": -1, "dy": 2},
      "encoding": {
        "x": {"datum": "2024-03-25", "type": "ordinal"},
        "y": {"field": "price", "type": "quantitative", "title": null},
        "text": {"field": "name"}
      }
    },
    {
      "data": {"name": "ma"},
      "mark": {"type": "line", "strokeWidth": 1, "interpolate": "monotone"},
      "encoding": {
        "x": {"field": "date", "type": "ordinal", "title": null},
        "y": {"field": "value", "type": "quantitative", "title": null},
        "color": {"field": "ma", "type": "nominal", "scale": {"domain": ["MA20", "MA50", "MA200"], "range": ["#5575cf", "#2e7b57", "#f7a35c"]}, "legend": null}
      }
    },
    {
      "data": {"name": "candles"},
      "mark": {"type": "rule", "color": "#7d7f85", "strokeWidth": 1},
      "encoding": {
        "x": {"field": "date", "type": "ordinal", "title": null},
        "y": {"field": "low", "type": "quantitative", "title": null},
        "y2": {"field": "high"}
      }
    },
    {
      "data": {"name": "candles"},
      "mark": {"type": "bar", "width": {"band": 0.72}, "strokeWidth": 0.6},
      "encoding": {
        "x": {
          "field": "date", "type": "ordinal", "title": null,
          "scale": {"type": "band", "paddingInner": 0, "paddingOuter": 0},
          "axis": {
            "values": ["2023-04-03", "2023-05-01", "2023-06-01", "2023-07-03", "2023-08-01", "2023-09-01", "2023-10-02", "2023-11-01", "2023-12-01", "2024-01-02", "2024-02-01", "2024-03-01"],
            "labelExpr": "substring(datum.value, 5, 7) == '01' ? substring(datum.value, 0, 4) : ['Jan','Feb','Mrz','Apr','Mai','Jun','Jul','Aug','Sep','Okt','Nov','Dez'][toNumber(substring(datum.value, 5, 7)) - 1]",
            "labelFontWeight": {"condition": {"test": "substring(datum.value, 5, 7) == '01'", "value": "bold"}, "value": "normal"}
          }
        },
        "y": {
          "field": "open", "type": "quantitative", "title": null,
          "scale": {"type": "log", "domain": [17.255, 31.88], "nice": false, "zero": false},
          "axis": {
            "orient": "right",
            "values": [17.4, 18, 18.6, 19.4, 20.2, 21, 22, 23, 24, 25, 26, 27, 28, 29, 30, 31],
            "labelExpr": "indexof([22, 26, 27, 30], datum.value) >= 0 ? '' : format(datum.value, '.3f')"
          }
        },
        "y2": {"field": "close"},
        "color": {"condition": {"test": "datum.close >= datum.open", "value": "#22703d"}, "value": "#c4483b"},
        "stroke": {"condition": {"test": "datum.close >= datum.open", "value": "#0f3d1f"}, "value": "#7c2a21"}
      }
    },
    {
      "data": {"name": "levels"},
      "transform": [{"filter": "datum.price != 26.129"}],
      "mark": {"type": "point", "shape": "M0.5,-0.93H5.55V0.93H0.5Z", "size": 196, "filled": true, "color": "#000000", "opacity": 1, "strokeWidth": 0},
      "encoding": {
        "x": {"datum": "2024-03-25", "type": "ordinal"},
        "y": {"field": "price", "type": "quantitative", "title": null}
      }
    },
    {
      "data": {"name": "levels"},
      "transform": [{"filter": "datum.price != 26.129"}],
      "mark": {"type": "text", "color": "#ffffff", "fontSize": 10.5, "align": "center", "baseline": "middle", "dx": 21},
      "encoding": {
        "x": {"datum": "2024-03-25", "type": "ordinal"},
        "y": {"field": "price", "type": "quantitative", "title": null},
        "text": {"field": "price", "type": "quantitative", "format": ".3f"}
      }
    },
    {
      "data": {"name": "levels"},
      "transform": [{"filter": "datum.price == 26.129"}],
      "mark": {"type": "point", "shape": "M0.5,-2.1H5.55V-0.24H0.5Z", "size": 196, "filled": true, "color": "#000000", "opacity": 1, "strokeWidth": 0},
      "encoding": {
        "x": {"datum": "2024-03-25", "type": "ordinal"},
        "y": {"field": "price", "type": "quantitative", "title": null}
      }
    },
    {
      "data": {"name": "levels"},
      "transform": [{"filter": "datum.price == 26.129"}],
      "mark": {"type": "text", "color": "#ffffff", "fontSize": 10.5, "align": "center", "baseline": "middle", "dx": 21, "dy": -8},
      "encoding": {
        "x": {"datum": "2024-03-25", "type": "ordinal"},
        "y": {"field": "price", "type": "quantitative", "title": null},
        "text": {"field": "price", "type": "quantitative", "format": ".3f"}
      }
    },
    {
      "data": {"name": "last"},
      "mark": {"type": "point", "shape": "M0.5,-0.93H5.55V0.93H0.5Z", "size": 196, "filled": true, "color": "#1f7a3c", "opacity": 1, "strokeWidth": 0},
      "encoding": {
        "x": {"datum": "2024-03-25", "type": "ordinal"},
        "y": {"field": "price", "type": "quantitative", "title": null}
      }
    },
    {
      "data": {"name": "last"},
      "mark": {"type": "text", "color": "#ffffff", "fontSize": 10.5, "align": "center", "baseline": "middle", "dx": 21},
      "encoding": {
        "x": {"datum": "2024-03-25", "type": "ordinal"},
        "y": {"field": "price", "type": "quantitative", "title": null},
        "text": {"field": "price", "type": "quantitative", "format": ".3f"}
      }
    },
    {
      "data": {"values": [{}]},
      "mark": {"type": "text", "text": "Silberpreis (XAG/USD) Tageschart", "fontSize": 13.5, "color": "#131722", "align": "center", "baseline": "middle"},
      "encoding": {"x": {"datum": "2023-10-03", "type": "ordinal"}, "y": {"datum": 28.74}}
    },
    {
      "data": {"values": [{}]},
      "mark": {"type": "text", "text": "Logarithmische Skalierung", "fontSize": 6.5, "color": "#131722", "align": "center", "baseline": "middle"},
      "encoding": {"x": {"datum": "2023-10-03", "type": "ordinal"}, "y": {"datum": 27.88}}
    },
    {
      "data": {"values": [{}]},
      "mark": {"type": "text", "text": "Silber / US-Dollar, 1T, FX_IDC", "fontSize": 8, "color": "#131722", "align": "left", "baseline": "middle", "dx": 2},
      "encoding": {"x": {"datum": "2023-03-15", "type": "ordinal"}, "y": {"datum": 31.44}}
    },
    {
      "data": {"values": [{}]},
      "mark": {"type": "point", "shape": "M0.96,-1.14H5.39V1.14H0.96Z", "size": 196, "filled": true, "color": "#ffffff", "stroke": "#e0e3eb", "strokeWidth": 1, "opacity": 1},
      "encoding": {"x": {"datum": "2024-03-25", "type": "ordinal"}, "y": {"datum": 31.44}}
    },
    {
      "data": {"values": [{}]},
      "mark": {"type": "text", "text": "USD", "fontSize": 10, "color": "#131722", "align": "center", "baseline": "middle", "dx": 17},
      "encoding": {"x": {"datum": "2024-03-25", "type": "ordinal"}, "y": {"datum": 31.44}}
    }
  ]
}
